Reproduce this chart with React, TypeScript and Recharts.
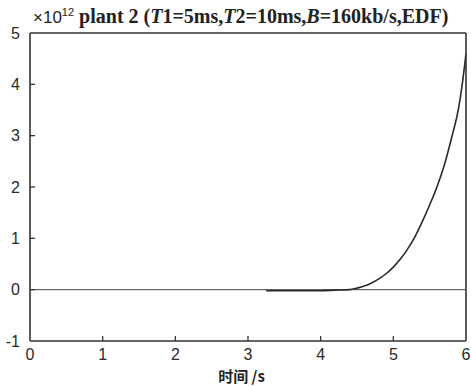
import React from 'react';
import { ComposedChart, Line, Scatter, XAxis, YAxis, ReferenceLine } from 'recharts';

const timeS = [3.25, 3.5, 3.75, 4.0, 4.2, 4.4, 4.5, 4.6, 4.7, 4.8, 4.9, 5.0, 5.1, 5.2, 5.3, 5.4, 5.5, 5.6, 5.7, 5.8, 5.9, 5.95, 6.0];
const valueE12 = [-0.02, -0.02, -0.02, -0.02, -0.01, 0.0, 0.03, 0.07, 0.13, 0.21, 0.31, 0.44, 0.6, 0.8, 1.04, 1.33, 1.65, 2.0, 2.42, 2.95, 3.55, 4.02, 4.6];
const xTicks = [0, 1, 2, 3, 4, 5, 6];
const yTicks = [-1, 0, 1, 2, 3, 4, 5];

const data = timeS.map((t, i) => ({ t, v: valueE12[i] }));
const xTickMarks = xTicks.slice(1, 6).map((t) => ({ t, v: -1 }));
const yTickMarks = yTicks.slice(1, 6).map((v) => ({ t: 0, v }));

const FONT = 'Liberation Sans, Arial, sans-serif';
const tickStyle = { fill: '#2a2a2a', fontSize: 16, fontFamily: FONT };

const VMark = (p: any) => <line x1={p.cx} x2={p.cx} y1={p.cy} y2={p.cy - 5} stroke="#333" strokeWidth={1.3} />;
const HMark = (p: any) => <line x1={p.cx} x2={p.cx + 5} y1={p.cy} y2={p.cy} stroke="#333" strokeWidth={1.3} />;

export default function App() {
  return (
    <div style={{ position: 'absolute', left: 0, top: 0, width: 471, height: 386, background: '#fff' }}>
      <ComposedChart width={471} height={386} data={data} margin={{ top: 33, right: 5, bottom: 25, left: 0 }}>
        <XAxis
          dataKey="t"
          type="number"
          domain={[0, 6]}
          ticks={xTicks}
          tickLine={false}
          tickMargin={2}
          stroke="#333"
          strokeWidth={1.6}
          tick={tickStyle}
          height={20}
          interval={0}
          allowDataOverflow
        />
        <YAxis
          type="number"
          domain={[-1, 5]}
          ticks={yTicks}
          tickLine={false}
          tickMargin={4}
          stroke="#333"
          strokeWidth={1.6}
          tick={tickStyle}
          width={30}
          interval={0}
          allowDataOverflow
        />
        <ReferenceLine y={5} stroke="#333" strokeWidth={1.6} />
        <ReferenceLine x={6} stroke="#333" strokeWidth={1.6} />
        <ReferenceLine y={0} stroke="#444" strokeWidth={1} />
        <Scatter data={xTickMarks} dataKey="v" shape={<VMark />} isAnimationActive={false} />
        <Scatter data={yTickMarks} dataKey="v" shape={<HMark />} isAnimationActive={false} />
        <Line dataKey="v" type="monotone" stroke="#2a2a2a" strokeWidth={1.6} dot={false} isAnimationActive={false} />
      </ComposedChart>
      <div style={{ position: 'absolute', left: 33, top: 1, whiteSpace: 'nowrap', color: '#222', lineHeight: '22px' }}>
        <span style={{ fontFamily: FONT, fontSize: 17 }}>×10<sup style={{ fontSize: 11 }}>12</sup></span>
        <span style={{ fontFamily: 'Liberation Serif, Times New Roman, serif', fontSize: 20, fontWeight: 600 }}>
          {' plant 2 ('}<i>T</i>1=5ms,<i>T</i>2=10ms,<i>B</i>=160kb/s,EDF)
        </span>
      </div>
      <div style={{ position: 'absolute', left: 0, width: 471, top: 367, lineHeight: '18px', textAlign: 'center', fontFamily: 'Noto Sans CJK SC, sans-serif', fontWeight: 700, fontSize: 15, color: '#222', paddingLeft: 12, boxSizing: 'border-box' }}>
        时间 /s
      </div>
    </div>
  );
}
